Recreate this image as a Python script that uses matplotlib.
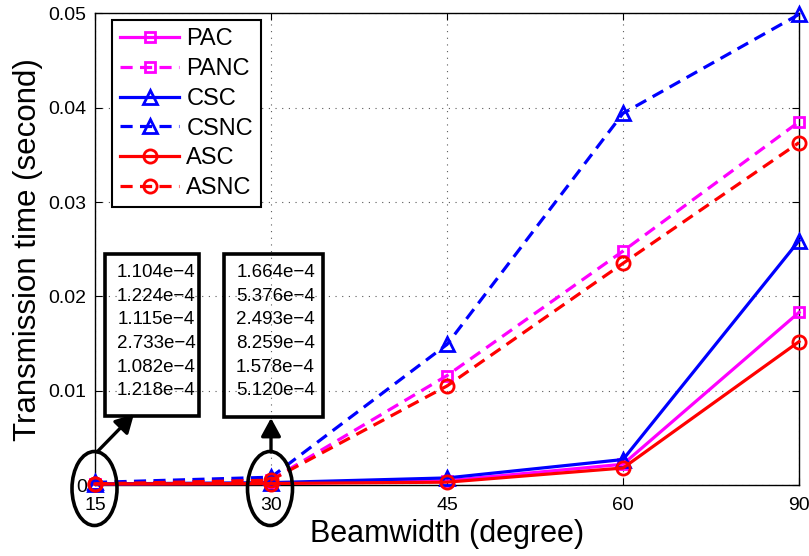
import matplotlib
matplotlib.use("Agg")
import matplotlib.pyplot as plt
from matplotlib.patches import Ellipse, Rectangle, FancyArrowPatch

# ---- data ----
beamwidth_labels = ['15', '30', '45', '60', '90']
PAC  = [1.104e-4, 1.664e-4, 0.00045, 0.0022, 0.0183]
PANC = [1.224e-4, 5.376e-4, 0.0116, 0.0248, 0.0385]
CSC  = [1.115e-4, 2.493e-4, 0.00075, 0.0027, 0.0259]
CSNC = [2.733e-4, 8.259e-4, 0.0149, 0.0394, 0.0499]
ASC  = [1.082e-4, 1.578e-4, 0.0003, 0.0018, 0.0152]
ASNC = [1.218e-4, 5.120e-4, 0.0105, 0.0235, 0.0363]
series_names = ['PAC', 'PANC', 'CSC', 'CSNC', 'ASC', 'ASNC']
yticks = [0, 0.01, 0.02, 0.03, 0.04, 0.05]
ytick_labels = ['0', '0.01', '0.02', '0.03', '0.04', '0.05']

plt.rcParams['font.family'] = ['Liberation Sans', 'DejaVu Sans']

W, H = 809, 556
fig = plt.figure(figsize=(W / 100, H / 100), dpi=100)
ax = fig.add_axes([95 / W, 1 - 485 / H, 704 / W, 471.6 / H])

x = list(range(len(beamwidth_labels)))
dash = (0, (3.8, 2.3))
styles = {
    'PAC':  dict(color='#ff00ff', ls='-',  marker='s', ms=7.5),
    'PANC': dict(color='#ff00ff', ls=dash, marker='s', ms=7.5),
    'CSC':  dict(color='#0000ff', ls='-',  marker='^', ms=10.5),
    'CSNC': dict(color='#0000ff', ls=dash, marker='^', ms=10.5),
    'ASC':  dict(color='#ff0000', ls='-',  marker='o', ms=9.5),
    'ASNC': dict(color='#ff0000', ls=dash, marker='o', ms=9.5),
}
data = {'PAC': PAC, 'PANC': PANC, 'CSC': CSC, 'CSNC': CSNC, 'ASC': ASC, 'ASNC': ASNC}
for name in series_names:
    st = styles[name]
    ax.plot(x, data[name], color=st['color'], linestyle=st['ls'], lw=2.3,
            marker=st['marker'], ms=st['ms'], mfc='none', mec=st['color'],
            mew=2, label=name, clip_on=False, zorder=3)

ax.set_xlim(0, 4)
ax.set_ylim(0, 0.05)
ax.set_xticks(x)
ax.set_xticklabels(beamwidth_labels)
ax.set_yticks(yticks)
ax.set_yticklabels(ytick_labels)
ax.tick_params(direction='in', length=5, width=0.8, labelsize=14,
               top=True, right=True, pad=6)
ax.tick_params(axis='x', pad=9)
ax.grid(True, color='0.35', linestyle=(0, (1, 5)), linewidth=0.8)
for s in ax.spines.values():
    s.set_linewidth(1.0)
    s.set_color('k')

ax.set_xlabel('Beamwidth (degree)', fontsize=22, labelpad=3)
ax.set_ylabel('Transmission time (second)', fontsize=22.5, labelpad=4)

leg = ax.legend(loc='upper left', bbox_to_anchor=((112 - 95) / 704, (485 - 20) / 471.6),
                borderaxespad=0, fontsize=17, numpoints=1, handlelength=2.5,
                handletextpad=0.3, labelspacing=0.33, borderpad=0.35,
                fancybox=False, framealpha=1, edgecolor='k')
leg.get_frame().set_linewidth(1.5)


def fx(px):
    return px / W


def fy(py):
    return 1 - py / H


# annotation boxes with values at 15 and 30
boxes = [(105, 254, 199, 416, 156, 0), (224, 254, 323, 417, 275.5, 1)]
for (x0, y0, x1, y1, xc, idx) in boxes:
    fig.add_artist(Rectangle((fx(x0), fy(y1)), fx(x1) - fx(x0), fy(y0) - fy(y1),
                             transform=fig.transFigure, fill=False, lw=2.6,
                             ec='k', zorder=10))
    for i, name in enumerate(series_names):
        v = data[name][idx]
        fig.text(fx(xc), fy(272.7 + i * 23.6), f"{v * 1e4:.3f}e\u22124",
                 ha='center', va='center', fontsize=13.5, zorder=11)

# ellipses around the small values
for cx in (94.5, 270):
    fig.add_artist(Ellipse((fx(cx), fy(488.5)), 45 / W, 74 / H,
                           transform=fig.transFigure, fill=False, lw=2.6,
                           ec='k', zorder=10))

# arrows
for (xa, ya, xb, yb) in [(97, 452, 134, 414), (271, 452, 271, 418)]:
    fig.add_artist(FancyArrowPatch((fx(xa), fy(ya)), (fx(xb), fy(yb)),
                                   transform=fig.transFigure,
                                   arrowstyle='-|>,head_length=11,head_width=6',
                                   lw=2.4, color='k', shrinkA=0, shrinkB=0,
                                   zorder=10))

fig.savefig('out.png', dpi=100)
